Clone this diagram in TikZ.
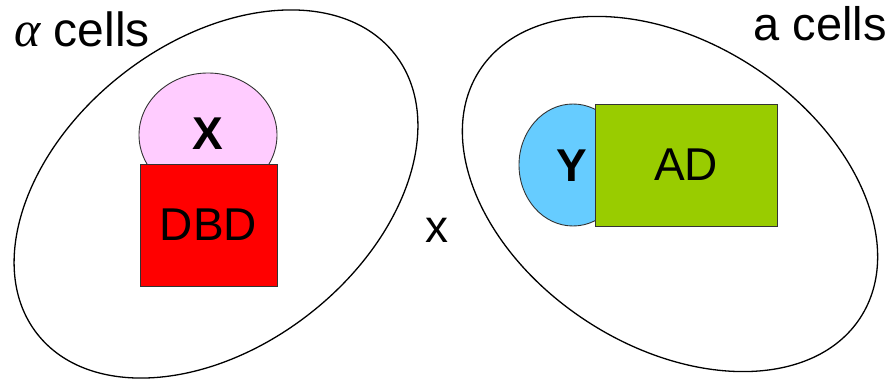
\documentclass[tikz,border=0pt]{standalone}
\usepackage{fontspec}
\setmainfont{Liberation Sans}
\newfontfamily\greekfont{Liberation Serif}
\usepackage{xcolor}
\usetikzlibrary{positioning}
\definecolor{bindpink}{HTML}{FFCCFF}
\definecolor{bindblue}{HTML}{66CCFF}
\definecolor{adgreen}{HTML}{99CC00}
\begin{document}
\begin{tikzpicture}[x=1pt, y=1pt,
		cellwall/.style={line width=1.3pt},
		partbox/.style={draw=black!80, line width=0.9pt},
		lbl/.style={font=\fontsize{46}{50}\selectfont, inner sep=0pt}]
		\useasboundingbox (0,0) rectangle (893,380);
		\coordinate (AlphaCell) at (216,186);
		\coordinate (ACell) at (670,186);
		% the two cells
		\draw[cellwall, shift={(AlphaCell)}, rotate=38] (0,0) ellipse [x radius=227, y radius=152];
		\draw[cellwall, shift={(ACell)}, rotate=-33] (0,0) ellipse [x radius=227, y radius=152];
		\node[lbl, font=\fontsize{48}{52}\selectfont, anchor=base west] (alphalabel) at (14,333) {{\greekfont\itshape\fontsize{50}{52}\selectfont α} cells};
		\node[lbl, font=\fontsize{47}{50}\selectfont, anchor=base east] (alabel) at (887,339) {a cells};
		% X fused to DBD
		\draw[partbox, fill=bindpink] (208,245) ellipse [x radius=69, y radius=62];
		\draw[partbox, fill=red] (140,94) rectangle (277,216);
		\node[lbl] (dbd) at (208.5,155) {DBD};
		\node[lbl, font=\fontsize{46}{50}\selectfont\bfseries] (xbind) at (208,246) {X};
		% Y fused to AD
		\draw[partbox, fill=bindblue] (573,215) ellipse [x radius=54, y radius=61];
		\draw[partbox, fill=adgreen] (595,154) rectangle (777,276);
		\node[lbl] (ad) at (686,215) {AD};
		\node[lbl, font=\fontsize{46}{50}\selectfont\bfseries] (ybind) at (572,214) {Y};
		\node[lbl] (cross) at (437,150) {x};
	\end{tikzpicture}
\end{document}
